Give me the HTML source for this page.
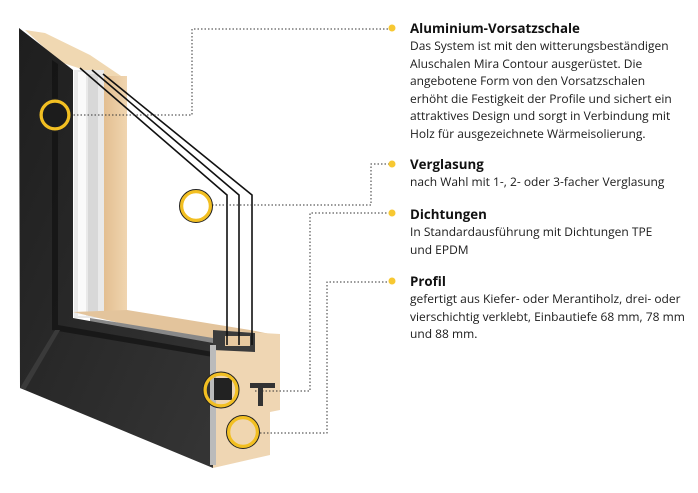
<!DOCTYPE html>
<html><head><meta charset="utf-8"><style>
html,body{margin:0;padding:0;background:#fff;}
body{width:698px;height:493px;position:relative;overflow:hidden;font-family:"Open Sans","Liberation Sans",sans-serif;color:#1a1a1a;}
svg{position:absolute;left:0;top:0;}
.t{position:absolute;left:410px;font-size:12px;line-height:17.5px;white-space:nowrap;}
.t b{display:block;font-size:13.3px;line-height:18px;font-weight:bold;color:#111;}
</style></head><body>
<svg width="698" height="493" viewBox="0 0 698 493">
<defs>
<linearGradient id="dk" x1="0" y1="0" x2="1" y2="1"><stop offset="0" stop-color="#1e1e1e"/><stop offset="1" stop-color="#353535"/></linearGradient>
<linearGradient id="wd" x1="0" y1="0" x2="1" y2="0"><stop offset="0" stop-color="#e2bd8e"/><stop offset="1" stop-color="#f0d5b0"/></linearGradient>
</defs>
<polygon points="25,30 45,33 90,55 127,80 127,96 100,75 60,62" fill="#f0d8b2"/>
<rect x="102" y="76" width="25" height="240" fill="url(#wd)"/>
<rect x="74" y="70" width="30" height="248" fill="#e9e9e9"/>
<rect x="78" y="72" width="8" height="244" fill="#fafafa"/>
<rect x="88" y="74" width="10" height="242" fill="#d8d8d8"/>
<polygon points="73,312 127,310 250,330 280,336 213,345" fill="#e3c49c"/>
<polygon points="90,318 213,338 213,348 90,325" fill="#888"/>
<polygon points="213,330 280,334 280,410 270,412 270,455 213,468" fill="#efd6b3"/>
<polygon points="213,330 255,333 255,352 213,350" fill="#3b3b3b"/>
<rect x="225" y="336" width="25" height="10" fill="#e8c9a0"/>
<polygon points="19,28 73,70 73,318 213,343 213,468 20,388" fill="url(#dk)"/>
<polygon points="52,60 58,64 58,325 213,352 213,357 52,330" fill="#111" opacity="0.7"/>
<polygon points="20,388 55,330 60,330 25,390" fill="#3a3a3a"/>
<rect x="210" y="345" width="6" height="120" fill="#bbb"/>
<rect x="214" y="378" width="18" height="22" fill="#222"/>
<rect x="250" y="383" width="25" height="5" fill="#333"/>
<rect x="258" y="388" width="5" height="18" fill="#333"/>
<g fill="none" stroke="#111" stroke-width="1.6">
<polyline points="80,68 227,195 227,345"/>
<polyline points="92,70 239,195 239,345"/>
<polyline points="103,74 252,195 252,345"/>
</g>
<g fill="none" stroke="#333" stroke-width="1" stroke-dasharray="1.5,2">
<polyline points="70,115 192,115 192,29 390,29"/>
<polyline points="212,205 371,205 371,164 390,164"/>
<polyline points="255,391 310,391 310,213 390,213"/>
<polyline points="260,433 327,433 327,282 390,282"/>
</g>
<g fill="#f7c832">
<circle cx="392" cy="28" r="3.5"/><circle cx="392" cy="164" r="3.5"/><circle cx="392" cy="213" r="3.5"/><circle cx="392" cy="281" r="3.5"/>
</g>
<g stroke-width="3.5">
<circle cx="55" cy="115" r="14" fill="#1c1c1c" stroke="#f2bf22"/>
<circle cx="55" cy="115" r="16" fill="none" stroke="#222" stroke-width="1"/>
<circle cx="196" cy="206" r="14.5" fill="#fff" stroke="#f2bf22"/>
<circle cx="196" cy="206" r="16.5" fill="none" stroke="#222" stroke-width="1"/>
<circle cx="221" cy="390" r="16" fill="none" stroke="#f2bf22"/>
<circle cx="221" cy="390" r="18" fill="none" stroke="#222" stroke-width="1"/>
<circle cx="243" cy="432" r="14.5" fill="#f0d6b0" stroke="#f2bf22"/>
<circle cx="243" cy="432" r="16.5" fill="none" stroke="#222" stroke-width="1"/>
</g>
</svg>
<div class="t" style="top:19px"><b>Aluminium-Vorsatzschale</b>Das System ist mit den witterungsbeständigen<br>Aluschalen Mira Contour ausgerüstet. Die<br>angebotene Form von den Vorsatzschalen<br>erhöht die Festigkeit der Profile und sichert ein<br>attraktives Design und sorgt in Verbindung mit<br>Holz für ausgezeichnete Wärmeisolierung.</div>
<div class="t" style="top:155px"><b>Verglasung</b>nach Wahl mit 1-, 2- oder 3-facher Verglasung</div>
<div class="t" style="top:205px"><b>Dichtungen</b>In Standardausführung mit Dichtungen TPE<br>und EPDM</div>
<div class="t" style="top:272px"><b>Profil</b>gefertigt aus Kiefer- oder Merantiholz, drei- oder<br>vierschichtig verklebt, Einbautiefe 68 mm, 78 mm<br>und 88 mm.</div>
</body></html>
